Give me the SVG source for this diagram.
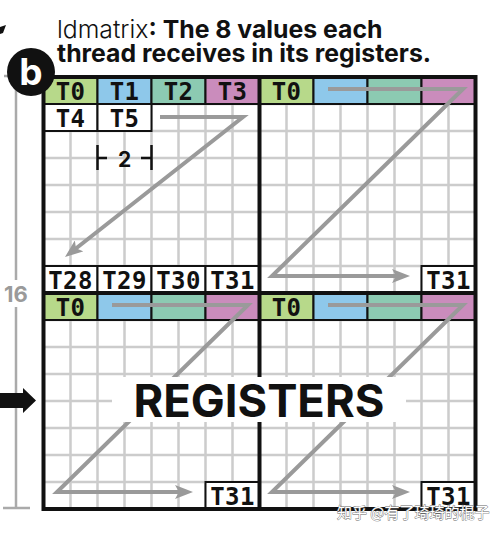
<svg xmlns="http://www.w3.org/2000/svg" width="497" height="534" viewBox="0 0 497 534">
<style>
.gridl{fill:none;stroke:#cccccc;stroke-width:2.5}
.lbl{font-family:"DejaVu Sans Mono","Liberation Mono",monospace;font-weight:700;font-size:24px;letter-spacing:0.4px;text-anchor:middle;fill:#111}
.cell{stroke:#111;stroke-width:2}
.g{fill:#b7d98a}.b{fill:#8ec8ea}.t{fill:#8ccab2}.p{fill:#ca8cbc}.w{fill:#fff}
.arrow{fill:none;stroke:#9a9a9a;stroke-width:4;stroke-linejoin:miter;marker-end:url(#ah)}
.thick{fill:none;stroke:#111;stroke-width:4}
.sans{font-family:Inter,"Noto Sans","Liberation Sans",sans-serif}
</style>
<defs>
<marker id="ah" viewBox="0 0 18 14" refX="11" refY="7" markerWidth="18" markerHeight="14" markerUnits="userSpaceOnUse" orient="auto">
<path d="M0,0 L18,7 L0,14 L4,7 Z" fill="#9a9a9a"/>
</marker>
</defs>
<rect width="497" height="534" fill="#fff"/>
<g id="title" class="sans" fill="#111" font-size="24.8">
<text x="57" y="38"><tspan font-weight="300">ldmatrix</tspan><tspan font-weight="700">: The 8 values each</tspan></text>
<text x="57" y="61.5" font-weight="700">thread receives in its registers.</text>
</g>
<path id="edge-mark" d="M0,27 L6,25 L3,33 L0,34 Z" fill="#111"/>
<g id="scale" stroke="#aaaaaa" stroke-width="2.5" fill="none">
<path d="M4,76 H28 M16,76 V280 M16,307 V508 M3,508 H30"/>
<text x="16" y="302" class="sans" font-size="22" font-weight="700" fill="#9a9a9a" stroke="none" text-anchor="middle">16</text>
</g>
<path id="input-arrow" d="M0,393 H23 V388 L36,400.5 L23,413 V408 H0 Z" fill="#111"/>
<g id="grid">
<path class="gridl" d="M70.5,77V509M97.5,77V509M124.5,77V509M151.5,77V509M178.5,77V509M205.5,77V509M232.5,77V509M286.5,77V509M313.5,77V509M340.5,77V509M367.5,77V509M394.5,77V509M421.5,77V509M448.5,77V509M43.5,104H475.5M43.5,131H475.5M43.5,158H475.5M43.5,185H475.5M43.5,212H475.5M43.5,239H475.5M43.5,266H475.5M43.5,320H475.5M43.5,347H475.5M43.5,374H475.5M43.5,401H475.5M43.5,428H475.5M43.5,455H475.5M43.5,482H475.5"/>
</g>
<g id="quad-tl">
<rect class="cell g" x="43.5" y="77" width="54" height="27"/>
<rect class="cell b" x="97.5" y="77" width="54" height="27"/>
<rect class="cell t" x="151.5" y="77" width="54" height="27"/>
<rect class="cell p" x="205.5" y="77" width="54" height="27"/>
<rect class="cell w" x="43.5" y="104" width="54" height="27"/>
<rect class="cell w" x="97.5" y="104" width="54" height="27"/>
<rect class="cell w" x="43.5" y="266" width="54" height="27"/>
<rect class="cell w" x="97.5" y="266" width="54" height="27"/>
<rect class="cell w" x="151.5" y="266" width="54" height="27"/>
<rect class="cell w" x="205.5" y="266" width="54" height="27"/>
<text class="lbl" x="70.5" y="99.5">T0</text>
<text class="lbl" x="124.5" y="99.5">T1</text>
<text class="lbl" x="178.5" y="99.5">T2</text>
<text class="lbl" x="232.5" y="99.5">T3</text>
<text class="lbl" x="70.5" y="126.5">T4</text>
<text class="lbl" x="124.5" y="126.5">T5</text>
<text class="lbl" x="70.5" y="288.5">T28</text>
<text class="lbl" x="124.5" y="288.5">T29</text>
<text class="lbl" x="178.5" y="288.5">T30</text>
<text class="lbl" x="232.5" y="288.5">T31</text>
</g>
<g id="quad-tr">
<rect class="cell g" x="259.5" y="77" width="54" height="27"/>
<rect class="cell b" x="313.5" y="77" width="54" height="27"/>
<rect class="cell t" x="367.5" y="77" width="54" height="27"/>
<rect class="cell p" x="421.5" y="77" width="54" height="27"/>
<rect class="cell w" x="421.5" y="266" width="54" height="27"/>
<text class="lbl" x="286.5" y="99.5">T0</text>
<text class="lbl" x="448.5" y="288.5">T31</text>
</g>
<g id="quad-bl">
<rect class="cell g" x="43.5" y="293" width="54" height="27"/>
<rect class="cell b" x="97.5" y="293" width="54" height="27"/>
<rect class="cell t" x="151.5" y="293" width="54" height="27"/>
<rect class="cell p" x="205.5" y="293" width="54" height="27"/>
<rect class="cell w" x="205.5" y="482" width="54" height="27"/>
<text class="lbl" x="70.5" y="315.5">T0</text>
<text class="lbl" x="232.5" y="504.5">T31</text>
</g>
<g id="quad-br">
<rect class="cell g" x="259.5" y="293" width="54" height="27"/>
<rect class="cell b" x="313.5" y="293" width="54" height="27"/>
<rect class="cell t" x="367.5" y="293" width="54" height="27"/>
<rect class="cell p" x="421.5" y="293" width="54" height="27"/>
<rect class="cell w" x="421.5" y="482" width="54" height="27"/>
<text class="lbl" x="286.5" y="315.5">T0</text>
<text class="lbl" x="448.5" y="504.5">T31</text>
</g>
<g id="dim-2">
<path d="M97.5,145V170M151.5,145V170M97.5,158H107M141,158H151.5" stroke="#111" stroke-width="2.5" fill="none"/>
<text x="124.5" y="166.5" class="sans" font-size="21" font-weight="700" fill="#111" text-anchor="middle">2</text>
</g>
<g id="connectors">
<path class="arrow" d="M160,117 H243 L70.5,252.7"/>
<path class="arrow" d="M328,89 H463 L272,276 H403"/>
<path class="arrow" d="M112,305 H248 L57,492 H186"/>
<path class="arrow" d="M328,305 H463 L272,492 H403"/>
</g>
<g id="frame">
<rect class="thick" x="43.5" y="77" width="432" height="432"/>
<path class="thick" d="M259.5,77V509M43.5,293H475.5"/>
</g>
<g id="registers-label">
<rect x="112" y="377" width="294" height="45" fill="#fff"/>
<text x="133.5" y="417" class="sans" font-size="45.3" font-weight="700" fill="#111">REGISTERS</text>
</g>
<g id="badge">
<circle cx="31" cy="72" r="24" fill="#111"/>
<text x="31" y="85" class="sans" font-size="37" font-weight="700" fill="#fff" text-anchor="middle">b</text>
</g>
<text id="watermark" x="337" y="518" font-family="'Noto Sans CJK SC',sans-serif" font-size="15" fill="#fff" stroke="#666" stroke-width="0.8" paint-order="stroke">知乎 @有了琦琦的棍子</text>
</svg>
